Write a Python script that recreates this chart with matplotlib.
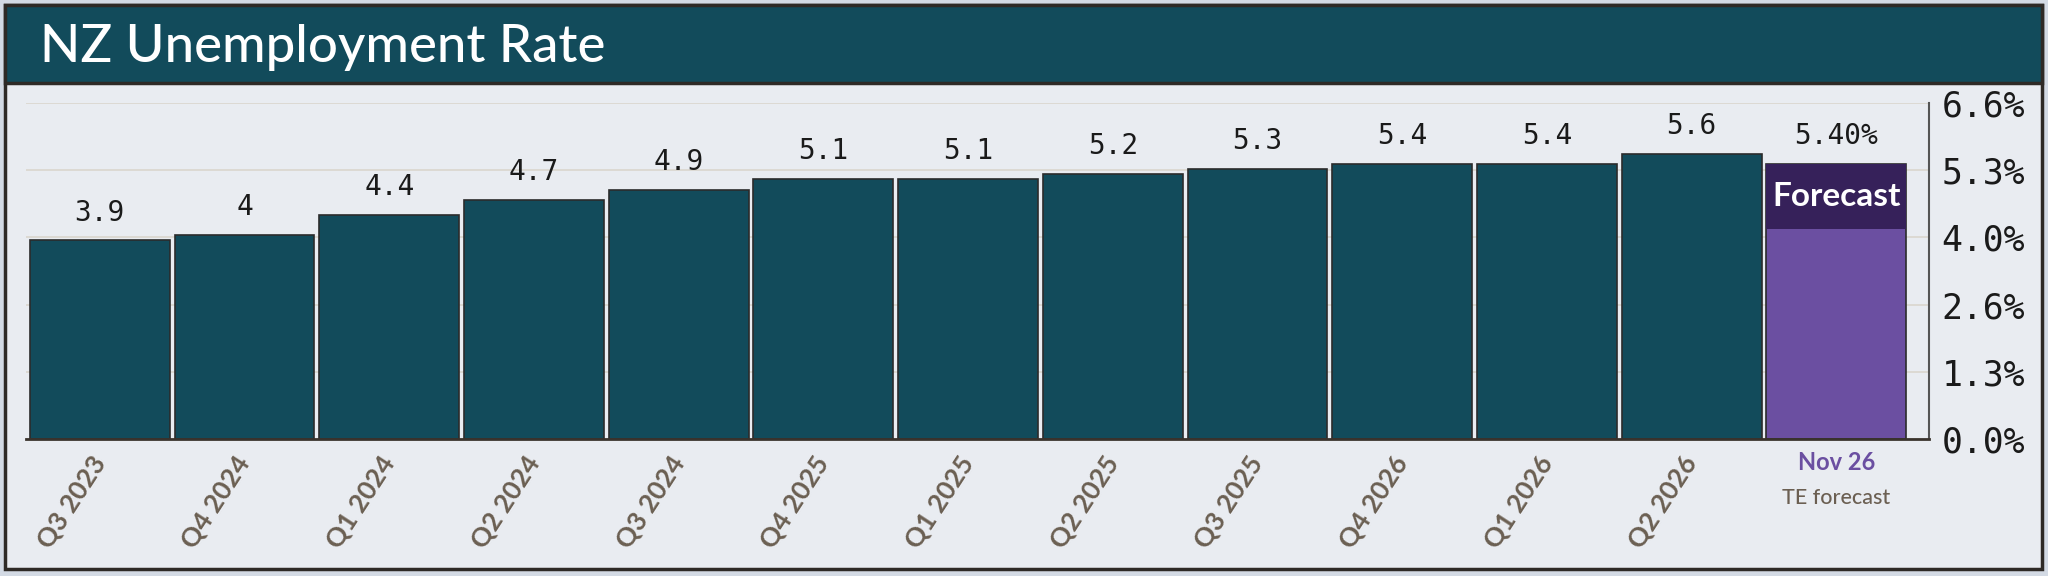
import matplotlib.pyplot as plt
from matplotlib.patches import Rectangle
from matplotlib.transforms import blended_transform_factory

# data
quarters = ["Q3 2023", "Q4 2024", "Q1 2024", "Q2 2024", "Q3 2024", "Q4 2025",
            "Q1 2025", "Q2 2025", "Q3 2025", "Q4 2026", "Q1 2026", "Q2 2026"]
rates = [3.9, 4.0, 4.4, 4.7, 4.9, 5.1, 5.1, 5.2, 5.3, 5.4, 5.4, 5.6]
rate_labels = ["3.9", "4", "4.4", "4.7", "4.9", "5.1", "5.1", "5.2", "5.3", "5.4", "5.4", "5.6"]
forecast_value = 5.4
forecast_label = "5.40%"
forecast_date = "Nov 26"
forecast_source = "TE forecast"
y_max = 6.6

TEAL = "#124b5b"
PURPLE = "#6b4fa1"
DARK_PURPLE = "#36215a"
PANEL = "#e9ecf1"
OUTER = "#d3dae4"
BROWN = "#6b5f52"
SANS = ["Lato", "DejaVu Sans"]
MONO = ["DejaVu Sans Mono"]

W, H = 2048, 576
fig = plt.figure(figsize=(W / 100, H / 100), dpi=100)
fig.patch.set_facecolor(OUTER)

# panel and title band (kept behind the axes)
fig.patches.append(Rectangle((5 / W, 1 - 569 / H), 2037 / W, 564 / H,
                             transform=fig.transFigure, facecolor=PANEL,
                             edgecolor="#2e2a26", linewidth=2.5, zorder=-10))
fig.patches.append(Rectangle((5 / W, 1 - 83 / H), 2037 / W, 78 / H,
                             transform=fig.transFigure, facecolor=TEAL,
                             edgecolor="#2e2a26", linewidth=2.5, zorder=-9))
fig.text(40 / W, 1 - 62 / H, "NZ Unemployment Rate", family=SANS,
         fontsize=38, fontweight="medium", color="white", va="baseline", ha="left")

ax = fig.add_axes([26 / W, 1 - 439 / H, (1929 - 26) / W, (439 - 103) / H])
ax.patch.set_alpha(0)

x = list(range(len(quarters)))
bars = ax.bar(x, rates, width=0.967, color=TEAL, edgecolor="#2b2b2b", linewidth=1.2)
ax.bar_label(bars, labels=rate_labels, padding=10, family=MONO, fontsize=20,
             color="#1a1a1a")

fx = len(quarters)
fbar = ax.bar([fx], [forecast_value], width=0.967, color=PURPLE,
              edgecolor="#2b2b2b", linewidth=1.2)
band_h = 65 / 336 * y_max
ax.bar([fx], [band_h], bottom=[forecast_value - band_h], width=0.967,
       color=DARK_PURPLE, edgecolor="none")
ax.bar_label(fbar, labels=[forecast_label], padding=10, family=MONO,
             fontsize=20, color="#1a1a1a")
ax.text(fx, forecast_value - band_h / 2, "Forecast", family=SANS,
        fontsize=24, fontweight="bold", color="white", ha="center", va="center")

ax.set_xlim(-0.51, fx + 0.64)
ax.set_ylim(0, y_max)
ticks = [y_max * i / 5 for i in range(6)]
ax.set_yticks(ticks)
ax.set_yticklabels(["%.1f%%" % t for t in ticks], family=MONO, fontsize=25,
                   color="#1a1a1a")
ax.yaxis.tick_right()
ax.tick_params(axis="y", length=0, pad=9)
ax.yaxis.grid(True, color="#dbd7d0", linewidth=1.3)
ax.set_axisbelow(True)

ax.set_xticks(x)
ax.set_xticklabels(quarters, rotation=57, ha="right", va="center",
                   rotation_mode="anchor", family=SANS, fontsize=19,
                   fontweight="bold", color=BROWN)
ax.tick_params(axis="x", length=0, pad=14)

trans = blended_transform_factory(ax.transData, ax.transAxes)
ax.text(fx, -23 / 336, forecast_date, transform=trans, family=SANS,
        fontsize=17, fontweight="bold", color=PURPLE, ha="center", va="center")
ax.text(fx, -59 / 336, forecast_source, transform=trans, family=SANS,
        fontsize=15.5, fontweight="medium", color=BROWN, ha="center", va="center")

for side in ["left", "top"]:
    ax.spines[side].set_visible(False)
ax.spines["bottom"].set_color("#3a332d")
ax.spines["bottom"].set_linewidth(2)
ax.spines["right"].set_color("#555555")
ax.spines["right"].set_linewidth(1.5)

fig.savefig("out.png", dpi=100, facecolor=OUTER)
